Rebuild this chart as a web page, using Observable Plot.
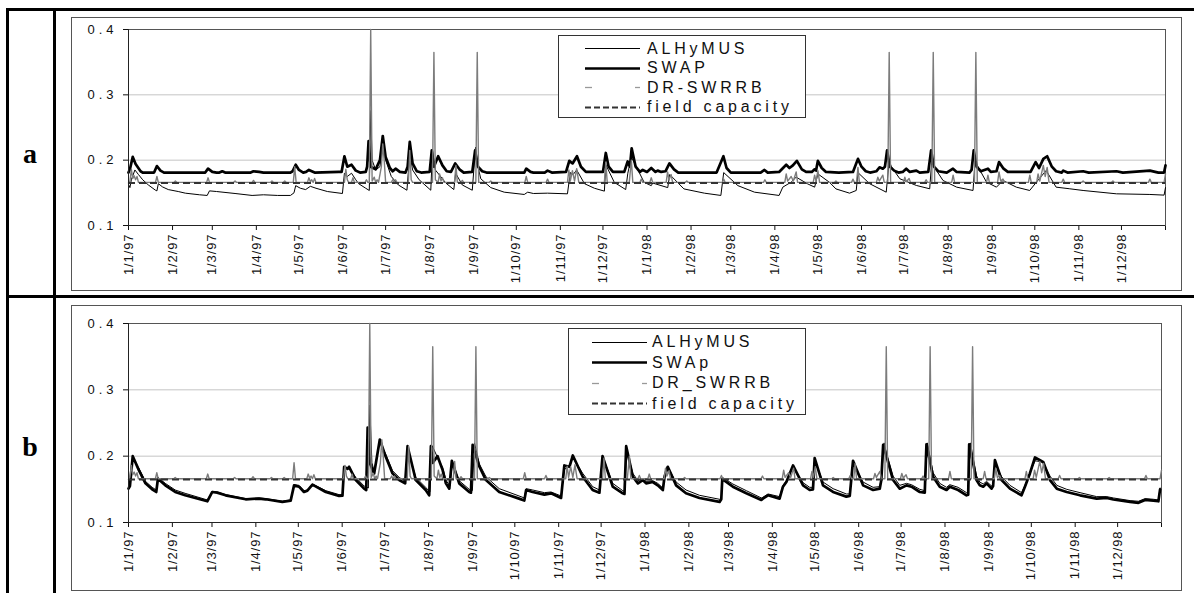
<!DOCTYPE html>
<html><head><meta charset="utf-8">
<script src="https://cdn.jsdelivr.net/npm/d3@7"></script>
<script src="https://cdn.jsdelivr.net/npm/@observablehq/plot@0.6"></script>
<style>
html,body{margin:0;padding:0;background:#fff;}
body{width:1194px;height:593px;overflow:hidden;position:relative;font-family:Arial,"Liberation Sans",sans-serif;}
.ln{position:absolute;background:#000;}
.frame{position:absolute;border:1px solid #555;box-sizing:border-box;pointer-events:none;}
.plotbox{position:absolute;}
.legend{position:absolute;border:1px solid #333;background:#fff;box-sizing:border-box;}
.plabel{position:absolute;font-family:"Liberation Serif","Times New Roman",serif;font-weight:bold;font-size:28px;width:40px;text-align:center;line-height:1;}
</style></head><body>
<script>
// ---------------- data ----------------
// days since 1/1/97 -> volumetric soil water content
const tickLabels = ["1/1/97","1/2/97","1/3/97","1/4/97","1/5/97","1/6/97","1/7/97","1/8/97","1/9/97","1/10/97","1/11/97","1/12/97",
  "1/1/98","1/2/98","1/3/98","1/4/98","1/5/98","1/6/98","1/7/98","1/8/98","1/9/98","1/10/98","1/11/98","1/12/98"];
const yTicks = [0.1, 0.2, 0.3, 0.4];
const fieldCapacity = 0.165;
const legendA = ["ALHyMUS", "SWAP", "DR-SWRRB", "field capacity"];
const legendB = ["ALHyMUS", "SWAp", "DR_SWRRB", "field capacity"];
const panelNames = ["a", "b"];

const drSwrrb = [[0,0.165],[1,0.168],[2,0.186],[3,0.172],[4,0.176],[5,0.17],[6,0.175],[7,0.166],
[19,0.166],[20,0.175],[21,0.166],[32,0.166],[33,0.168],[34,0.166],[55,0.166],[56,0.173],[57,0.166],
[74,0.166],[75,0.168],[76,0.166],[87,0.166],[88,0.169],[89,0.166],[100,0.166],[101,0.168],[102,0.166],
[109,0.166],[110,0.168],[111,0.166],[116,0.166],[117,0.19],[118,0.166],
[126,0.166],[127,0.173],[128,0.167],[129,0.17],[130,0.166],[131,0.172],[132,0.166],
[152,0.166],[153,0.186],[154,0.17],[155,0.166],[157,0.166],[158,0.173],[159,0.166],
[166.5,0.166],[167.5,0.17],[168.5,0.166],[169.5,0.166],[170.5,0.4],[171.5,0.168],
[173,0.174],[174,0.166],[175,0.17],[176,0.166],[178,0.19],[179,0.225],[180,0.2],[181,0.166],
[185,0.166],[186,0.17],[187,0.166],[188,0.17],[189,0.166],[197,0.166],[198,0.215],[199,0.17],[200,0.166],
[214,0.166],[215,0.365],[216,0.17],[218,0.166],[219,0.179],[220,0.168],[221,0.173],[222,0.166],
[229.5,0.166],[230.5,0.192],[231.5,0.166],[234,0.166],[235,0.169],[236,0.166],
[244.5,0.166],[245.5,0.365],[246.5,0.166],[254,0.166],[255,0.168],[256,0.166],
[279,0.166],[280,0.175],[281,0.166],[294,0.166],[295,0.171],[296,0.166],
[309,0.166],[310,0.185],[311,0.168],[312.5,0.184],[314,0.168],[315.5,0.187],[317,0.166],
[335,0.166],[336,0.197],[337,0.166],[352.5,0.166],[354,0.2],[355,0.166],
[360,0.166],[361,0.171],[362,0.166],[367,0.166],[368,0.173],[369,0.166],
[378.5,0.166],[379.5,0.182],[380.5,0.17],[382,0.178],[383,0.166],[392,0.166],[393,0.168],[394,0.166],
[418,0.166],[419,0.171],[420,0.166],[447,0.166],[448,0.17],[449,0.166],
[462,0.166],[463,0.179],[464,0.168],[466.5,0.175],[468,0.168],[470,0.182],[471,0.166],
[482,0.166],[483,0.177],[484,0.168],[485.3,0.184],[486.5,0.166],[497,0.166],[498,0.168],[499,0.166],
[509,0.166],[510,0.171],[511,0.166],[512.5,0.166],[513.5,0.189],[514.5,0.166],
[526.5,0.166],[527.5,0.174],[528.5,0.168],[531,0.177],[532,0.166],[534.5,0.166],[535.5,0.365],[536.5,0.166],
[545.5,0.166],[546.5,0.174],[547.5,0.167],[549.5,0.172],[550.5,0.166],[560.5,0.166],[561.5,0.17],[562.5,0.166],
[565.5,0.166],[566.5,0.365],[567.5,0.166],[579.5,0.166],[580.5,0.177],[581.5,0.166],
[595.5,0.166],[596.5,0.365],[597.5,0.166],[604,0.166],[605,0.177],[606,0.166],
[611.8,0.166],[612.8,0.182],[614,0.168],[615.6,0.171],[616.6,0.166],
[633.5,0.166],[634.5,0.177],[635.5,0.166],[639.3,0.166],[640.3,0.179],[641.5,0.168],[644,0.192],[645.3,0.175],[646.7,0.189],[648,0.166],
[657,0.166],[658,0.171],[659,0.166],[671,0.166],[672,0.168],[673,0.166],[692,0.166],[693,0.168],[694,0.166],
[718,0.166],[719,0.171],[720,0.166],[729,0.166],[730,0.179]];

const swapA = [[0,0.181],[1,0.186],[3,0.205],[5,0.194],[8.5,0.183],[10,0.181],[18,0.181],[20,0.191],[22.5,0.184],[25,0.181],
[54,0.181],[56,0.187],[59,0.182],[62,0.181],[64,0.181],[66,0.183],[68,0.181],[86,0.181],[88,0.183],[92,0.182],[95,0.181],
[114,0.181],[115.5,0.183],[117.7,0.193],[120,0.185],[123,0.181],[125,0.182],[127,0.185],[131,0.181],
[148,0.182],[150,0.182],[152,0.206],[154,0.19],[157,0.193],[160,0.184],[163,0.181],[167,0.182],[168,0.19],[169,0.229],[170.5,0.19],
[174,0.186],[177,0.2],[179,0.237],[181,0.205],[184,0.188],[186,0.183],[188,0.187],[191,0.182],[195,0.181],[196.5,0.19],[198,0.228],
[200,0.195],[203,0.183],[206,0.181],[212,0.182],[213.5,0.215],[215,0.19],[218,0.206],[221,0.192],[224,0.183],[227,0.182],
[230,0.195],[233,0.186],[236,0.181],[242,0.182],[244,0.215],[246,0.19],[249,0.183],[252,0.181],[278.6,0.181],[280,0.187],
[283,0.182],[285,0.181],[293,0.181],[295,0.184],[298,0.181],[308,0.182],[310.3,0.199],[312.6,0.195],[315.7,0.206],[318.5,0.19],
[322,0.182],[334,0.182],[336,0.211],[338,0.19],[341,0.182],[349,0.182],[351.4,0.198],[353,0.19],[354.2,0.218],[357,0.19],
[360,0.182],[362,0.185],[365,0.182],[368,0.188],[371,0.182],[372.5,0.184],[375,0.182],[378,0.183],[380.8,0.195],[384,0.186],
[387,0.181],[414,0.181],[418.8,0.206],[421,0.188],[424,0.181],[445,0.181],[447.7,0.185],[450,0.181],[458,0.182],[463,0.193],
[465.3,0.188],[467.7,0.192],[470.5,0.199],[474,0.186],[477,0.182],[481,0.182],[483,0.186],[484,0.184],[485.3,0.199],[488,0.188],
[491,0.182],[500,0.181],[510,0.182],[513.5,0.202],[516,0.19],[519,0.183],[522,0.181],[526.4,0.183],[528.7,0.189],[531,0.187],
[532.5,0.19],[534,0.215],[536,0.19],[539,0.184],[542,0.181],[545,0.182],[547.5,0.187],[550,0.182],[554.6,0.184],[557,0.181],
[563,0.182],[565,0.215],[567,0.19],[570,0.183],[576,0.181],[580.4,0.187],[583,0.182],[592,0.181],[593.5,0.185],[595,0.215],
[597,0.19],[600,0.183],[605,0.187],[607,0.182],[611,0.183],[612.8,0.197],[616,0.187],[619,0.182],[635,0.182],[638.6,0.197],
[641,0.188],[644,0.202],[646.7,0.206],[650,0.19],[653,0.183],[657,0.181],[658,0.184],[661,0.181],[672,0.183],[676,0.181],
[695.5,0.183],[700,0.181],[719,0.184],[725,0.181],[729,0.181],[730,0.192]];

const alhymusA = [[0,0.163],[1,0.158],[2,0.17],[4.5,0.185],[7,0.178],[10,0.17],[14,0.162],[19,0.154],[20,0.153],[21,0.164],
[24,0.159],[28,0.155],[35,0.152],[40,0.1495],[50,0.147],[55.4,0.146],[57,0.153],[62,0.152],[75,0.149],[87,0.146],[95,0.147],
[105,0.146],[114,0.146],[116.5,0.15],[117.7,0.161],[121,0.157],[124.7,0.155],[128,0.16],[132,0.157],[140,0.152],[150.6,0.149],
[152,0.18],[154,0.175],[157,0.18],[160,0.17],[162,0.164],[167,0.157],[169.5,0.1536],[170.5,0.276],[171.5,0.2],[174,0.185],
[177,0.19],[179,0.22],[181,0.2],[185,0.175],[190,0.162],[196,0.154],[198,0.21],[200,0.185],[204.6,0.17],[212.8,0.154],
[214,0.215],[216,0.185],[223.4,0.165],[229,0.155],[230.3,0.18],[235,0.162],[242,0.154],[244.3,0.22],[246,0.19],[248,0.1715],
[255,0.158],[264.5,0.151],[278.6,0.1475],[281,0.151],[285,0.149],[295,0.1495],[309,0.1485],[311,0.181],[313,0.178],[315.5,0.185],
[321,0.164],[328,0.157],[335,0.1526],[336,0.193],[342,0.166],[350,0.155],[351.5,0.18],[354,0.205],[363,0.166],[368,0.161],
[369,0.165],[379.6,0.158],[381,0.178],[391,0.156],[405.4,0.1495],[417,0.146],[419,0.181],[429,0.161],[440.7,0.151],[458,0.146],
[460.6,0.1587],[466.5,0.1664],[470,0.174],[478,0.1638],[483,0.1587],[485.3,0.179],[493.5,0.166],[498,0.156],[507.6,0.1495],
[512.3,0.1536],[513.5,0.181],[521.7,0.164],[533.4,0.151],[535.5,0.2],[537,0.19],[543,0.1715],[554.6,0.1613],[564,0.1562],
[565.5,0.2],[567,0.19],[573.4,0.1689],[583,0.1587],[594.5,0.1536],[596,0.2],[598,0.19],[604,0.1664],[611,0.1587],[615.6,0.1689],
[625,0.1587],[634.4,0.1536],[639,0.166],[646,0.1842],[653,0.1587],[662.6,0.1562],[672,0.1536],[695.5,0.1485],[719,0.1475],
[729,0.1465],[730,0.158]];

const swapB = [[0,0.151],[1,0.155],[3,0.2],[7.3,0.179],[12,0.159],[16.7,0.15],[19.6,0.146],[20.8,0.166],[26,0.156],[33,0.146],
[40,0.141],[55.7,0.132],[59.2,0.146],[62.7,0.145],[68.6,0.141],[82.8,0.135],[92.2,0.136],[97,0.135],[108.7,0.131],[114.6,0.133],
[117,0.156],[120.5,0.154],[124,0.146],[126.4,0.148],[130,0.157],[139.4,0.146],[148.8,0.14],[151.2,0.1405],[152.4,0.184],
[154.7,0.181],[155.9,0.184],[160.6,0.164],[166.5,0.151],[168,0.149],[169,0.243],[170.5,0.19],[173.6,0.174],[177.6,0.225],
[181.8,0.199],[186.6,0.174],[191.3,0.164],[195.5,0.159],[197.2,0.215],[203,0.164],[210,0.149],[212.5,0.141],[213.7,0.215],
[215,0.19],[218.4,0.2],[222,0.179],[224.3,0.159],[226.7,0.151],[228.5,0.193],[233.7,0.159],[240.8,0.146],[242,0.145],
[243.2,0.217],[248,0.184],[252.6,0.164],[262,0.146],[276,0.136],[279.7,0.133],[281,0.149],[285.6,0.146],[293.9,0.142],
[298.6,0.144],[305.7,0.137],[308,0.186],[311.6,0.184],[314,0.201],[321,0.169],[328,0.149],[332.8,0.145],[335,0.2],
[342.2,0.154],[349.3,0.144],[350.5,0.143],[351.7,0.215],[356.4,0.169],[360,0.159],[363.4,0.164],[365.8,0.159],[370.5,0.161],
[374,0.156],[377.6,0.149],[378.8,0.169],[381.1,0.184],[387,0.156],[394,0.144],[403.5,0.137],[417.7,0.131],[418.9,0.135],
[419.6,0.165],[421.2,0.163],[427.1,0.154],[436.6,0.144],[447.2,0.134],[448.3,0.136],[451.9,0.141],[460.1,0.136],[462.5,0.154],
[464.9,0.161],[469.6,0.186],[476.7,0.156],[481.4,0.149],[483.7,0.15],[484.9,0.197],[490.8,0.156],[497.9,0.146],[507.3,0.139],
[509.7,0.14],[512,0.193],[519.1,0.156],[526.2,0.149],[530.9,0.151],[532,0.164],[533.3,0.217],[535.6,0.2],[540.3,0.164],
[545,0.151],[549.8,0.156],[553.3,0.154],[559.2,0.146],[562.7,0.145],[563.9,0.218],[568.6,0.169],[573.3,0.154],[578.1,0.149],
[580.4,0.154],[586.3,0.149],[592.2,0.141],[593.4,0.142],[594.1,0.218],[599.3,0.164],[601.6,0.156],[604,0.154],[606.4,0.159],
[609.9,0.151],[611,0.155],[612.3,0.194],[617,0.164],[622.9,0.151],[631.1,0.141],[633.5,0.154],[637,0.174],[640.6,0.198],
[644.1,0.194],[646.5,0.191],[651.2,0.164],[656,0.151],[663,0.146],[672.4,0.141],[684.2,0.136],[691.3,0.137],[696,0.1347],
[707.8,0.131],[713.7,0.1297],[718.4,0.134],[724.3,0.133],[727.8,0.132],[729,0.15]];

const alhymusB = [[0,0.155],[1,0.16],[3,0.195],[7.3,0.182],[12,0.162],[16.7,0.153],[19.6,0.149],[20.8,0.168],[26,0.159],[33,0.149],
[40,0.144],[55.7,0.134],[59.2,0.147],[62.7,0.146],[68.6,0.142],[82.8,0.136],[92.2,0.137],[97,0.136],[108.7,0.132],[114.6,0.134],
[117,0.157],[120.5,0.156],[124,0.148],[126.4,0.149],[130,0.158],[139.4,0.148],[148.8,0.142],[151.2,0.142],[152.4,0.18],
[154.7,0.183],[155.9,0.182],[160.6,0.168],[166.5,0.155],[169.5,0.152],[170.5,0.277],[172,0.19],[173.6,0.178],[177.6,0.222],
[181.8,0.203],[186.6,0.178],[191.3,0.168],[195.5,0.162],[197.5,0.21],[203,0.168],[210,0.153],[213,0.146],[214.5,0.216],
[218.4,0.198],[222,0.183],[224.3,0.164],[227,0.155],[229,0.19],[233.7,0.163],[240.8,0.15],[243,0.148],[244.5,0.22],[248,0.188],
[252.6,0.169],[262,0.151],[276,0.14],[279.7,0.137],[281,0.151],[285.6,0.149],[293.9,0.145],[298.6,0.146],[305.7,0.14],[308,0.18],
[311.6,0.185],[314,0.198],[321,0.174],[328,0.154],[332.8,0.149],[335,0.2],[342.2,0.159],[349.3,0.148],[350.5,0.147],[352,0.21],
[356.4,0.174],[360,0.163],[363.4,0.166],[365.8,0.162],[370.5,0.163],[374,0.159],[377.6,0.152],[379,0.168],[381.1,0.183],
[387,0.161],[394,0.149],[403.5,0.141],[417.7,0.135],[419,0.137],[419.6,0.168],[421.2,0.166],[427.1,0.158],[436.6,0.148],
[447.2,0.137],[448.3,0.138],[451.9,0.143],[460.1,0.139],[462.5,0.156],[464.9,0.163],[469.6,0.183],[476.7,0.16],[481.4,0.153],
[483.7,0.153],[485,0.194],[490.8,0.161],[497.9,0.151],[507.3,0.143],[509.7,0.143],[512,0.19],[519.1,0.161],[526.2,0.153],
[530.9,0.154],[532,0.166],[534,0.22],[535.6,0.205],[540.3,0.17],[545,0.156],[549.8,0.159],[553.3,0.157],[559.2,0.15],
[562.7,0.148],[564.5,0.22],[568.6,0.175],[573.3,0.159],[578.1,0.153],[580.4,0.157],[586.3,0.153],[592.2,0.145],[593.4,0.146],
[595,0.22],[599.3,0.17],[601.6,0.161],[604,0.158],[606.4,0.162],[609.9,0.155],[611,0.158],[612.3,0.19],[617,0.169],[622.9,0.156],
[631.1,0.145],[633.5,0.156],[637,0.175],[640.6,0.193],[644.1,0.192],[646.5,0.19],[651.2,0.17],[656,0.156],[663,0.15],
[672.4,0.145],[684.2,0.139],[691.3,0.139],[696,0.137],[707.8,0.133],[713.7,0.132],[718.4,0.136],[724.3,0.135],[727.8,0.134],
[729,0.152]];

// ---------------- helpers ----------------
const START = Date.UTC(1997, 0, 1);
const END = Date.UTC(1999, 0, 1);
const toDate = d => new Date(START + d * 864e5);
const toRows = pts => pts.map(([d, v]) => ({date: toDate(d), value: v}));
const tickDates = tickLabels.map(s => { const [d, m, y] = s.split("/").map(Number); return new Date(Date.UTC(1900 + y, m - 1, d)); });
const labelMap = new Map(tickDates.map((t, i) => [+t, tickLabels[i]]));
const allTicks = [...tickDates, new Date(END)];

function addDiv(cls, css, text) {
  const el = document.createElement("div");
  el.className = cls;
  Object.assign(el.style, css);
  if (text != null) el.textContent = text;
  document.body.appendChild(el);
  return el;
}

function makePanel(cfg) {
  const chart = Plot.plot({
    width: cfg.w, height: cfg.h,
    marginLeft: cfg.ml, marginTop: cfg.mt, marginRight: cfg.mr, marginBottom: cfg.mb,
    style: {fontFamily: "Arial, 'Liberation Sans', sans-serif", fontSize: "13px", color: "#111", background: "transparent", overflow: "visible"},
    x: {type: "utc", domain: [new Date(START), new Date(END)], ticks: allTicks,
        tickFormat: d => labelMap.get(+d) ?? "", tickRotate: -90, tickSize: 5, tickPadding: 3, label: null},
    y: {domain: [0.1, 0.4], ticks: yTicks, tickFormat: d3.format(".1f"), tickSize: 5, tickPadding: 6, label: null},
    marks: [
      Plot.ruleY(yTicks.filter(v => v > 0.1 && v < 0.4), {stroke: "#c4c4c4", strokeWidth: 1}),
      Plot.frame({stroke: "#555"}),
      Plot.line(toRows(cfg.alh), {x: "date", y: "value", stroke: "#000", strokeWidth: 1, strokeLinejoin: "round"}),
      Plot.line(toRows(cfg.swap), {x: "date", y: "value", stroke: "#000", strokeWidth: 2.7, strokeLinejoin: "round"}),
      Plot.line(toRows(drSwrrb), {x: "date", y: "value", stroke: "#7c7c7c", strokeWidth: 1.4, strokeLinejoin: "round"}),
      Plot.ruleY([fieldCapacity], {stroke: "#333", strokeWidth: 2, strokeDasharray: "7,4"}),
      Plot.ruleY([0.1], {stroke: "#222", strokeWidth: 1}),
      Plot.ruleX([new Date(START)], {stroke: "#222", strokeWidth: 1})
    ]
  });
  const box = addDiv("plotbox", {left: cfg.left + "px", top: cfg.top + "px", width: cfg.w + "px", height: cfg.h + "px"});
  box.appendChild(chart);
  // axis label styling
  chart.querySelectorAll('[aria-label^="y-axis"] text').forEach(t => {
    t.style.fontSize = "13px"; t.style.letterSpacing = "4px";
  });
  chart.querySelectorAll('[aria-label^="x-axis"] text').forEach(t => {
    t.style.fontSize = "13px"; t.style.letterSpacing = "0.9px";
  });
  addDiv("frame", {left: cfg.left + "px", top: cfg.top + "px", width: (cfg.w + 1) + "px", height: (cfg.h + 1) + "px"});

  // legend
  const lg = cfg.legend;
  const leg = addDiv("legend", {left: lg.x + "px", top: lg.y + "px", width: lg.w + "px", height: lg.h + "px"});
  const svg = d3.select(leg).append("svg").attr("width", lg.w).attr("height", lg.h).style("position", "absolute").style("left", "-1px").style("top", "-1px");
  cfg.names.forEach((name, i) => {
    const base = lg.base0 + i * lg.step;
    const ly = Math.round(base - 5.5) + 0.5;
    if (i === 0) svg.append("line").attr("x1", lg.s0).attr("x2", lg.s1).attr("y1", ly).attr("y2", ly).attr("stroke", "#000").attr("stroke-width", 1);
    if (i === 1) svg.append("line").attr("x1", lg.s0).attr("x2", lg.s1).attr("y1", ly).attr("y2", ly).attr("stroke", "#000").attr("stroke-width", 2.7);
    if (i === 2) {
      svg.append("line").attr("x1", lg.s0).attr("x2", lg.s0 + 7).attr("y1", ly).attr("y2", ly).attr("stroke", "#999").attr("stroke-width", 1.3);
      svg.append("line").attr("x1", lg.s1 - 5).attr("x2", lg.s1).attr("y1", ly).attr("y2", ly).attr("stroke", "#999").attr("stroke-width", 1.3);
    }
    if (i === 3) svg.append("line").attr("x1", lg.s0).attr("x2", lg.s1).attr("y1", ly).attr("y2", ly).attr("stroke", "#333").attr("stroke-width", 2).attr("stroke-dasharray", "6,3");
    svg.append("text").attr("x", lg.tx).attr("y", base).text(name)
      .attr("font-family", "Arial, 'Liberation Sans', sans-serif").attr("font-size", 16).attr("letter-spacing", 3.8).attr("fill", "#111");
  });
}

// ---------------- table grid ----------------
addDiv("ln", {left: "6px", top: "8px", width: "1188px", height: "2.5px"});
addDiv("ln", {left: "6px", top: "8px", width: "2.5px", height: "585px"});
addDiv("ln", {left: "53px", top: "8px", width: "2.5px", height: "585px"});
addDiv("ln", {left: "6px", top: "295px", width: "1188px", height: "2.5px"});
addDiv("plabel", {left: "10px", top: "140px"}, panelNames[0]);
addDiv("plabel", {left: "10px", top: "433px"}, panelNames[1]);

makePanel({left: 71, top: 17, w: 1110, h: 273, ml: 57, mt: 12, mr: 16, mb: 65,
  alh: alhymusA, swap: swapA, names: legendA,
  legend: {x: 558, y: 35, w: 248, h: 83, s0: 27, s1: 82, tx: 89, base0: 18.5, step: 19.5}});
makePanel({left: 71, top: 305, w: 1110, h: 285, ml: 57, mt: 18, mr: 20, mb: 68,
  alh: alhymusB, swap: swapB, names: legendB,
  legend: {x: 568, y: 328, w: 238, h: 87, s0: 24, s1: 79, tx: 84, base0: 19, step: 20.5}});
</script>
</body></html>
